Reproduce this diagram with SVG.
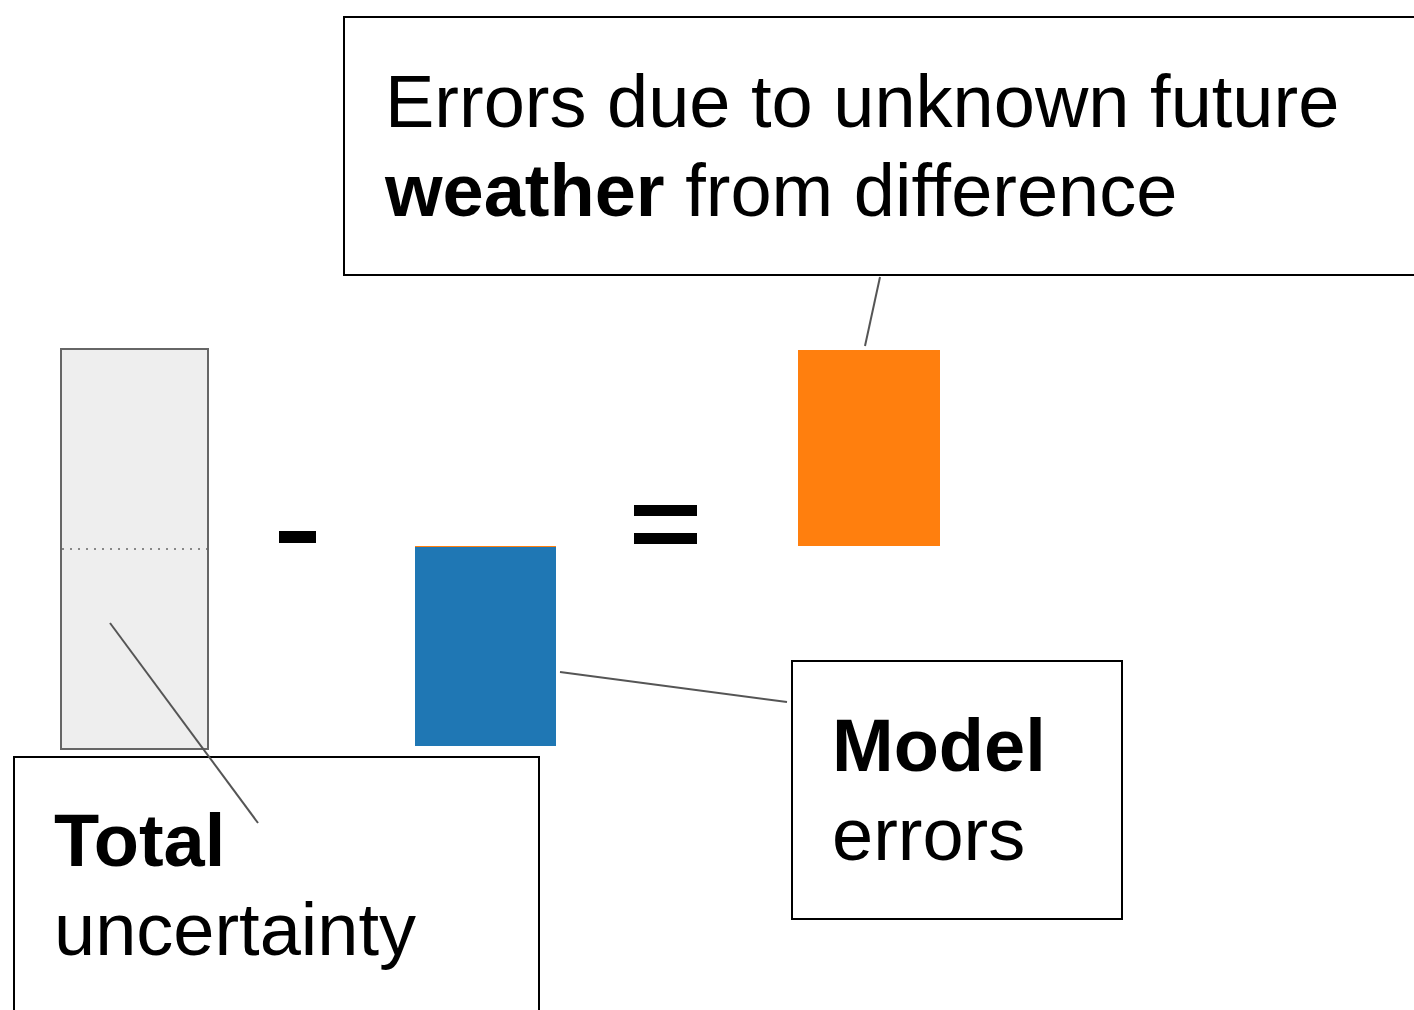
<svg xmlns="http://www.w3.org/2000/svg" width="1414" height="1010" viewBox="0 0 1414 1010">
<style>
.box{fill:#ffffff;stroke:#000000;stroke-width:2}
.t{font-family:"Liberation Sans",Arial,sans-serif;font-size:74px;fill:#000000}
.b{font-weight:bold}
.conn{stroke:#555555;stroke-width:2;fill:none}
.op{fill:#000000}
</style>
<rect width="1414" height="1010" fill="#ffffff"/>
<g id="total-bar">
<rect x="61" y="349" width="147" height="400" fill="#eeeeee" stroke="#666666" stroke-width="2"/>
<line x1="62" y1="549" x2="207" y2="549" stroke="#888888" stroke-width="2" stroke-dasharray="2,6"/>
</g>
<g id="minus"><rect class="op" x="279" y="531" width="37" height="12"/></g>
<g id="model-bar">
<rect x="415" y="546" width="141" height="200" fill="#1f77b4"/>
<line x1="415" y1="546.5" x2="556" y2="546.5" stroke="#ff7f0e" stroke-width="1"/>
</g>
<g id="equals">
<rect class="op" x="634" y="505" width="63" height="11"/>
<rect class="op" x="634" y="533" width="63" height="11"/>
</g>
<g id="weather-bar"><rect x="798" y="350" width="142" height="196" fill="#ff7f0e"/></g>
<g id="weather-box">
<rect class="box" x="344" y="17" width="1080" height="258"/>
<text class="t" x="385" y="127">Errors due to unknown future</text>
<text class="t" x="385" y="216"><tspan class="b">weather</tspan> from difference</text>
</g>
<g id="model-box">
<rect class="box" x="792" y="661" width="330" height="258"/>
<text class="t b" x="832" y="771">Model</text>
<text class="t" x="832" y="860">errors</text>
</g>
<g id="total-box">
<rect class="box" x="14" y="757" width="525" height="270"/>
<text class="t b" x="54" y="866">Total</text>
<text class="t" x="54" y="955">uncertainty</text>
</g>
<g id="connectors">
<line class="conn" x1="110" y1="623" x2="258" y2="823"/>
<line class="conn" x1="560" y1="672" x2="787" y2="702"/>
<line class="conn" x1="880" y1="277" x2="865" y2="346"/>
</g>
</svg>
